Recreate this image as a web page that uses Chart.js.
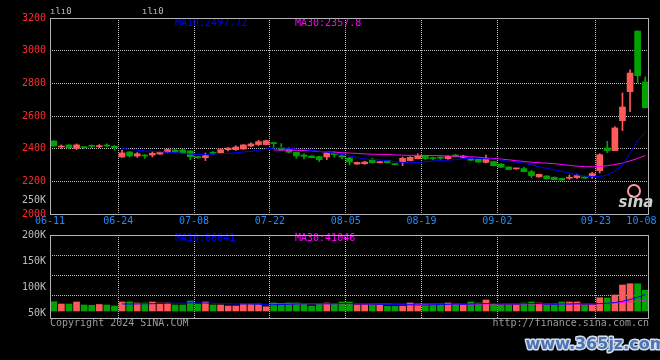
<!DOCTYPE html>
<html><head><meta charset="utf-8">
<script src="https://cdn.jsdelivr.net/npm/chart.js@4.4.1/dist/chart.umd.min.js"></script>
<style>
html,body{margin:0;padding:0;background:#000;}
#wrap{position:relative;width:660px;height:360px;background:#000;overflow:hidden;}
#pc{position:absolute;left:0;top:0;}
#vc{position:absolute;left:0;top:225px;}
</style></head><body>
<div id="wrap"><canvas id="pc" width="660" height="232"></canvas><canvas id="vc" width="660" height="135"></canvas></div>
<script>
// ---- data (trading days 2024-06-12 .. 2024-10-09) ----
const dates = ['06-12','06-13','06-14','06-17','06-18','06-19','06-20','06-21','06-24','06-25','06-26','06-27','06-28',
'07-01','07-02','07-03','07-04','07-05','07-08','07-09','07-10','07-11','07-12','07-15','07-16','07-17','07-18','07-19','07-22','07-23','07-24','07-25','07-26','07-29','07-30','07-31',
'08-01','08-02','08-05','08-06','08-07','08-08','08-09','08-12','08-13','08-14','08-15','08-16','08-19','08-20','08-21','08-22','08-23','08-26','08-27','08-28','08-29','08-30',
'09-02','09-03','09-04','09-05','09-06','09-09','09-10','09-11','09-12','09-13','09-18','09-19','09-20','09-23','09-24','09-25','09-26','09-27','09-30',
'10-08','10-09'];
const openP  = [2447,2410,2423,2402,2410,2416,2412,2419,2416,2349,2380,2355,2361,2361,2367,2378,2392,2392,2386,2351,
2345,2375,2374,2394,2394,2398,2416,2425,2425,2435,2406,2402,2378,2361,2355,2351,2349,2371,2357,2343,
2306,2308,2329,2314,2327,2306,2320,2327,2339,2355,2345,2349,2339,2361,2347,2341,2335,2316,2321,2306,
2288,2276,2278,2259,2227,2233,2225,2218,2219,2223,2227,2228,2265,2404,2388,2571,2749,3120,2808];
const closeP = [2416,2416,2406,2423,2406,2414,2418,2416,2406,2374,2355,2369,2355,2372,2378,2394,2380,2374,2351,2345,
2357,2372,2394,2404,2410,2423,2429,2443,2449,2431,2392,2378,2355,2353,2345,2333,2374,2363,2349,2318,
2316,2318,2314,2320,2314,2302,2341,2347,2357,2339,2339,2341,2353,2351,2355,2329,2318,2341,2296,2286,
2272,2279,2259,2235,2243,2216,2210,2208,2225,2235,2219,2248,2363,2388,2527,2655,2863,2847,2651];
const highP  = [2449,2423,2423,2429,2412,2423,2425,2429,2418,2392,2382,2376,2363,2382,2382,2398,2394,2398,2388,2353,
2374,2382,2402,2406,2418,2425,2435,2451,2453,2437,2431,2406,2380,2369,2357,2353,2378,2382,2359,2347,
2318,2323,2341,2322,2329,2308,2349,2351,2369,2359,2349,2351,2357,2365,2359,2343,2337,2361,2323,2308,
2290,2281,2288,2267,2245,2235,2227,2220,2239,2245,2229,2255,2369,2445,2535,2741,2882,3120,2839];
const lowP   = [2414,2402,2398,2394,2398,2406,2406,2410,2390,2347,2349,2347,2341,2349,2365,2374,2376,2372,2333,2341,
2327,2365,2369,2386,2390,2396,2410,2418,2423,2402,2390,2374,2341,2337,2343,2321,2333,2349,2337,2300,
2304,2304,2312,2312,2312,2300,2296,2325,2337,2335,2333,2335,2333,2349,2345,2327,2316,2312,2294,2284,
2270,2274,2257,2223,2225,2214,2208,2206,2212,2218,2217,2218,2251,2376,2388,2510,2626,2806,2649];
const volume = [37000,28000,28000,36000,24000,23000,26000,24000,20000,36000,
36000,32000,32000,36000,32000,32000,24000,24000,40000,28000,
36000,24000,24000,20000,20000,28000,28000,28000,17000,32000,
28000,32000,32000,28000,20000,28000,32000,28000,36000,36000,
24000,24000,24000,24000,19000,19000,19000,32000,28000,28000,
28000,28000,32000,28000,24000,36000,32000,44000,26000,24000,
24000,24000,32000,36000,32000,24000,24000,36000,36000,36000,
24000,24000,53000,52000,64000,104000,109000,109000,83000];
const ma10 = [null,null,null,null,null,null,null,null,null,
2402,2396,2390,2386,2384,2381,2378,2375,2372,2367,
2364,2365,2366,2370,2371,2375,2380,2383,2390,2398,
2404,2406,2402,2397,2394,2390,2384,2379,2372,2364,
2356,2346,2338,2333,2331,2326,2320,2316,2316,2316,
2320,2324,2327,2330,2333,2338,2341,2341,2338,2335,
2331,2322,2318,2312,2301,2290,2280,2270,2262,2250,
2240,2233,2229,2230,2238,2262,2300,2370,2450,2498];
const ma30 = [null,null,null,null,null,null,null,null,null,null,null,null,null,null,null,null,null,null,null,null,
null,null,null,null,null,null,null,null,null,
2392,2391,2390,2390,2389,2387,2382,2380,2379,2375,
2373,2371,2368,2366,2365,2364,2362,2360,2359,2359,
2358,2358,2357,2355,2354,2353,2350,2348,2343,2340,
2336,2332,2326,2322,2317,2314,2311,2308,2303,2298,
2293,2290,2289,2291,2296,2303,2312,2325,2340,2358];
const volMa10 = [null,null,null,null,null,null,null,null,null,
28200,28000,28400,29000,29200,30000,31000,31000,31000,33000,
32000,32000,31000,30000,29000,28000,28000,28000,27000,25000,
25000,26000,27000,28000,29000,29000,29000,29000,29000,30000,
30000,29000,29000,28000,27000,27000,26000,25000,25000,24000,
24000,25000,26000,27000,28000,27000,28000,29000,30000,30000,
29000,29000,29000,29000,30000,30000,28000,27000,28000,28000,
29000,29000,29000,30000,31000,34000,39000,46000,55000,66000];
const volMa30 = [null,null,null,null,null,null,null,null,null,null,null,null,null,null,null,null,null,null,null,null,
null,null,null,null,null,null,null,null,null,
29000,29000,29000,29000,29000,29000,29000,29000,29000,29000,
29000,29000,28000,28000,28000,28000,27000,27000,27000,27000,
27000,27000,27000,27000,27000,27000,27000,28000,28000,28000,
28000,28000,28000,28000,28000,28000,28000,28000,28000,28000,
28000,28000,28000,29000,30000,32000,34000,37000,39000,41000];
const tickDates = ['06-11','06-24','07-08','07-22','08-05','08-19','09-02','09-23','10-08'];
const noGridDates = ['06-11','10-08'];
const priceTicks = [2000,2200,2400,2600,2800,3000,3200];
const volTickValues = [200000,150000,100000,50000];
const lastMa = {ma10:'2497.72', ma30:'2357.8', vma10:'66041', vma30:'41046'};

// ---- styles ----
const MONO = '"DejaVu Sans Mono","Liberation Mono",monospace';
const UP = '#ff5a5a', DOWN = '#00a300';
const GRID = '#bdbdbd', BORDER = '#b4b4b4';
const isUp = k => closeP[k] >= openP[k];
const candleColor = dates.map((d,k) => isUp(k) ? UP : DOWN);

const textPlugin = {
  id: 'overlayText',
  afterDraw(chart, args, opts) {
    const ctx = chart.ctx;
    (opts.items || []).forEach(it => {
      ctx.save();
      ctx.font = it.font || ('10px ' + MONO);
      ctx.textAlign = it.align || 'left';
      ctx.textBaseline = 'middle';
      if (it.circle) {
        ctx.strokeStyle = it.color; ctx.lineWidth = 2;
        ctx.beginPath(); ctx.arc(it.x, it.y, it.r, 0, Math.PI*2); ctx.stroke();
      } else {
        if (it.stroke) { ctx.lineWidth = it.strokeWidth || 2; ctx.strokeStyle = it.stroke; ctx.lineJoin='round'; ctx.strokeText(it.text, it.x, it.y); }
        ctx.fillStyle = it.color;
        ctx.fillText(it.text, it.x, it.y);
      }
      ctx.restore();
    });
  }
};
const borderPlugin = {
  id: 'areaBorder',
  afterDraw(chart, args, opts) {
    const a = chart.chartArea, ctx = chart.ctx;
    ctx.save(); ctx.strokeStyle = opts.color; ctx.lineWidth = 1;
    ctx.strokeRect(Math.round(a.left)+0.5, Math.round(a.top)+0.5, Math.round(a.right-a.left)-1, Math.round(a.bottom-a.top));
    ctx.restore();
  }
};

const xAxisBase = (showLabels) => ({
  type: 'linear', min: -0.5, max: dates.length - 0.5, offset: false,
  afterBuildTicks: s => { s.ticks = tickDates.map(d => ({ value: dates.indexOf(d) + 0.5 })); }, // 06-11 is the day before the first candle -> left edge
  ticks: { display: showLabels, autoSkip: false, maxRotation: 0, color: '#1e8cff', font: { family: MONO, size: 10 }, padding: 1,
           callback: (v, i) => tickDates[i] },
  grid: { offset: false, drawTicks: false, lineWidth: 1, color: c => noGridDates.includes(tickDates[c.index]) ? 'rgba(0,0,0,0)' : GRID },
  border: { display: false, dash: [1, 1] },
  afterFit: s => { s.height = showLabels ? 18 : 0; }
});

const pts = arr => arr.map((v, k) => ({ x: k, y: v }));

Chart.defaults.font.family = MONO;
Chart.defaults.animation = false;

new Chart(document.getElementById('pc'), {
  type: 'bar',
  data: { datasets: [
    { type: 'line', label: 'MA10', data: pts(ma10), borderColor: '#0000ff', borderWidth: 1, pointRadius: 0, tension: 0, order: 0 },
    { type: 'line', label: 'MA30', data: pts(ma30), borderColor: '#ff00ff', borderWidth: 1, pointRadius: 0, tension: 0, order: 0 },
    { label: 'body', data: dates.map((d,k) => ({ x: k, y: [openP[k], closeP[k]] })), backgroundColor: candleColor,
      barThickness: 6, grouped: false, minBarLength: 1, borderWidth: 0, order: 1 },
    { label: 'wick', data: dates.map((d,k) => ({ x: k, y: [lowP[k], highP[k]] })), backgroundColor: candleColor,
      barThickness: 1, grouped: false, minBarLength: 1, borderWidth: 0, order: 2 }
  ]},
  options: {
    responsive: false, devicePixelRatio: 1,
    layout: { padding: { top: 18, right: 11, left: 0, bottom: 0 } },
    plugins: { legend: { display: false }, tooltip: { enabled: false },
      areaBorder: { color: BORDER },
      overlayText: { items: [
        { text: 'MA10:' + lastMa.ma10, x: 175, y: 23, color: '#0000ff' },
        { text: 'MA30:' + lastMa.ma30, x: 295, y: 23, color: '#ff00ff' },
        { text: 'ılı0', x: 50, y: 12, color: '#bbbbbb', font: '9px ' + MONO },
        { text: 'ılı0', x: 142, y: 12, color: '#bbbbbb', font: '9px ' + MONO },
        { text: '250K', x: 46, y: 200, color: '#bdbdbd', align: 'right' },
        { circle: true, x: 634, y: 191, r: 6, color: '#ff9a9a' },
        { text: 'sina', x: 636, y: 203, color: '#cfcfcf', align: 'center', font: 'italic bold 15px "DejaVu Sans"' }
      ]}
    },
    scales: {
      x: xAxisBase(true),
      y: { position: 'left', min: 2000, max: 3200,
        afterBuildTicks: s => { s.ticks = priceTicks.map(v => ({ value: v })); },
        ticks: { color: '#ff2b2b', font: { family: MONO, size: 10 }, padding: 4, callback: v => String(v) },
        grid: { color: GRID, drawTicks: false, lineWidth: 1 },
        border: { display: false, dash: [1, 1] },
        afterFit: s => { s.width = 50; } }
    }
  },
  plugins: [textPlugin, borderPlugin]
});

new Chart(document.getElementById('vc'), {
  type: 'bar',
  data: { datasets: [
    { type: 'line', label: 'VMA10', data: pts(volMa10), borderColor: '#0000ff', borderWidth: 1, pointRadius: 0, tension: 0, order: 0, yAxisID: 'yVol' },
    { type: 'line', label: 'VMA30', data: pts(volMa30), borderColor: '#ff00ff', borderWidth: 1, pointRadius: 0, tension: 0, order: 0, yAxisID: 'yVol' },
    { label: 'volume', data: volume.map((v,k) => ({ x: k, y: v })), backgroundColor: candleColor, barThickness: 6, grouped: false,
      borderWidth: 0, order: 1, yAxisID: 'yVol' }
  ]},
  options: {
    responsive: false, devicePixelRatio: 1,
    layout: { padding: { top: 10, right: 11, left: 0, bottom: 42 } },
    plugins: { legend: { display: false }, tooltip: { enabled: false },
      areaBorder: { color: BORDER },
      overlayText: { items: [
        { text: 'MA10:' + lastMa.vma10, x: 175, y: 13, color: '#0000ff' },
        { text: 'MA30:' + lastMa.vma30, x: 295, y: 13, color: '#ff00ff' },
        { text: 'Copyright 2024 SINA.COM', x: 50, y: 98.5, color: '#9a9a9a' },
        { text: 'http://finance.sina.com.cn', x: 649, y: 98.5, color: '#9a9a9a', align: 'right' },
        { text: 'www.365jz.com', x: 596, y: 120, color: '#4c74b4', stroke: '#d6deec', strokeWidth: 3, align: 'center', font: 'bold 16px "DejaVu Sans"' }
      ]}
    },
    scales: {
      x: xAxisBase(false),
      yVol: { position: 'left', min: -28000, max: 304000,
        afterBuildTicks: s => { s.ticks = [0,1,2,3].map(n => ({ value: s.max - n * 80000 })); },
        ticks: { display: false }, grid: { color: GRID, drawTicks: false, lineWidth: 1 },
        border: { display: false, dash: [1, 1] }, afterFit: s => { s.width = 0; } },
      yLab: { position: 'left', min: 42000, max: 200000,
        afterBuildTicks: s => { s.ticks = volTickValues.map(v => ({ value: v })); },
        ticks: { color: '#bdbdbd', font: { family: MONO, size: 10 }, padding: 4, callback: v => (v / 1000) + 'K' },
        grid: { display: false, drawTicks: false }, border: { display: false },
        afterFit: s => { s.width = 50; } }
    }
  },
  plugins: [textPlugin, borderPlugin]
});
</script>
</body></html>
